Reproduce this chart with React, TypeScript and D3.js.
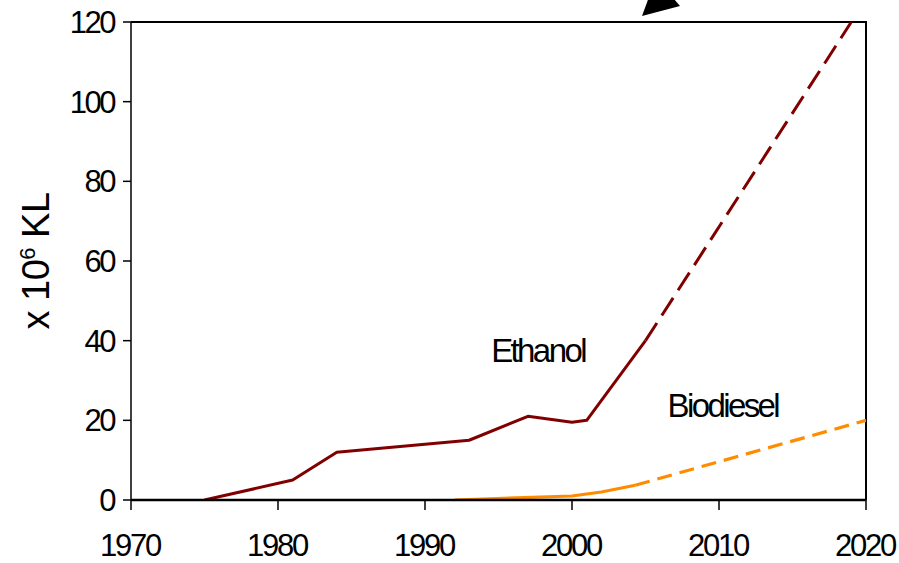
import { useRef, useEffect } from "react";
import * as d3 from "d3";

// Ethanol / biodiesel production, x 10^6 KL
const ethanolActual: [number, number][] = [
  [1975, 0], [1981, 5], [1984, 12], [1993, 15], [1997, 21], [2000, 19.5], [2001, 20], [2005, 40]
];
const ethanolProjected: [number, number][] = [[2005, 40], [2019, 120]];
const biodieselActual: [number, number][] = [
  [1992, 0], [2000, 1], [2002, 2], [2004.3, 3.7]
];
const biodieselProjected: [number, number][] = [[2004.3, 3.7], [2020, 20]];
const xTicks = [1970, 1980, 1990, 2000, 2010, 2020];
const yTicks = [0, 20, 40, 60, 80, 100, 120];
const seriesLabels = [
  { name: "Ethanol", year: 1994.5, value: 34.6 },
  { name: "Biodiesel", year: 2006.5, value: 20.8 }
];

export default function App() {
  const ref = useRef<SVGSVGElement>(null);

  useEffect(() => {
    const svg = d3.select(ref.current);
    svg.selectAll("*").remove();

    const width = 899;
    const height = 563;
    const margin = { top: 22, right: 33, bottom: 63, left: 131 };
    const font = "'Liberation Sans', Arial, sans-serif";

    const x = d3.scaleLinear().domain([1970, 2020]).range([margin.left, width - margin.right]);
    const y = d3.scaleLinear().domain([0, 120]).range([height - margin.bottom, margin.top]);

    svg.append("rect")
      .attr("width", width).attr("height", height).attr("fill", "#fff");

    svg.append("defs").append("clipPath").attr("id", "plot-clip")
      .append("rect")
      .attr("x", x(1970)).attr("y", y(120))
      .attr("width", x(2020) - x(1970)).attr("height", y(0) - y(120));

    // frame on top/right
    svg.append("path")
      .attr("d", `M${x(1970)},${y(120)}H${x(2020)}V${y(0)}`)
      .attr("fill", "none").attr("stroke", "#000").attr("stroke-width", 2);

    // y axis
    const yAxis = svg.append("g");
    yAxis.append("line")
      .attr("x1", x(1970)).attr("x2", x(1970))
      .attr("y1", y(120)).attr("y2", y(0))
      .attr("stroke", "#000").attr("stroke-width", 1.5);
    yTicks.forEach(t => {
      yAxis.append("line")
        .attr("x1", x(1970) - 8).attr("x2", x(1970))
        .attr("y1", y(t)).attr("y2", y(t))
        .attr("stroke", "#000").attr("stroke-width", 1.5);
      yAxis.append("text")
        .attr("x", x(1970) - 17).attr("y", y(t) + 11)
        .attr("text-anchor", "end")
        .attr("font-family", font).attr("font-size", 31).attr("fill", "#000")
        .attr("letter-spacing", -2.5)
        .text(t);
    });

    // x axis
    const xAxis = svg.append("g");
    xTicks.forEach(t => {
      xAxis.append("line")
        .attr("x1", x(t)).attr("x2", x(t))
        .attr("y1", y(0)).attr("y2", y(0) + 10)
        .attr("stroke", "#000").attr("stroke-width", 1.5);
      xAxis.append("text")
        .attr("x", x(t) - 1).attr("y", y(0) + 56)
        .attr("text-anchor", "middle")
        .attr("font-family", font).attr("font-size", 31).attr("fill", "#000")
        .attr("letter-spacing", -2.3)
        .text(t);
    });

    // y label
    const yl = svg.append("text")
      .attr("transform", `translate(49,${(y(0) + y(120)) / 2}) rotate(-90)`)
      .attr("text-anchor", "middle")
      .attr("font-family", font).attr("font-size", 38).attr("fill", "#000")
      .attr("letter-spacing", -0.5);
    yl.append("tspan").text("x 10");
    yl.append("tspan").attr("font-size", 22).attr("dy", -14).text("6");
    yl.append("tspan").attr("dy", 14).text(" KL");

    const line = d3.line<[number, number]>().x(d => x(d[0])).y(d => y(d[1]));
    const plot = svg.append("g").attr("clip-path", "url(#plot-clip)");

    plot.append("path").datum(biodieselActual)
      .attr("d", line).attr("fill", "none")
      .attr("stroke", "#ff8c00").attr("stroke-width", 3.2);
    plot.append("path").datum(biodieselProjected)
      .attr("d", line).attr("fill", "none")
      .attr("stroke", "#ff8c00").attr("stroke-width", 3.2)
      .attr("stroke-dasharray", "15,8");
    plot.append("path").datum(ethanolActual)
      .attr("d", line).attr("fill", "none")
      .attr("stroke", "#800000").attr("stroke-width", 3)
      .attr("stroke-linejoin", "round");
    plot.append("path").datum(ethanolProjected)
      .attr("d", line).attr("fill", "none")
      .attr("stroke", "#800000").attr("stroke-width", 3)
      .attr("stroke-dasharray", "21,9");

    // x axis baseline drawn over the series
    svg.append("line")
      .attr("x1", x(1970)).attr("x2", x(2020))
      .attr("y1", y(0)).attr("y2", y(0))
      .attr("stroke", "#000").attr("stroke-width", 2.5);

    seriesLabels.forEach(l => {
      svg.append("text")
        .attr("x", x(l.year)).attr("y", y(l.value))
        .attr("font-family", font).attr("font-size", 33).attr("fill", "#000")
        .attr("letter-spacing", -2.6)
        .text(l.name);
    });

    // arrowhead pointing into the chart from above
    svg.append("polygon")
      .attr("points", "642,16 680,6 656,-22")
      .attr("fill", "#000");
  }, []);

  return (
    <svg
      ref={ref}
      width={899}
      height={563}
      style={{ position: "absolute", left: 0, top: 0, display: "block" }}
    />
  );
}
